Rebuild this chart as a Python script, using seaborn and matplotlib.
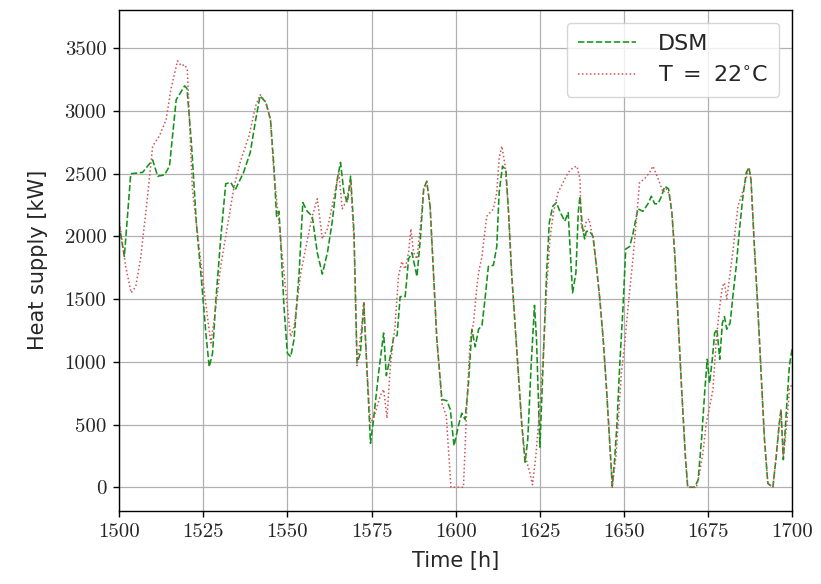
import matplotlib
matplotlib.use("Agg")
import matplotlib.pyplot as plt
import seaborn as sns
import pandas as pd

# DSM series (green dashed): hour, heat supply [kW]
dsm_hours = [1500, 1501.6, 1503.5, 1507, 1510, 1511.5, 1513.5, 1515, 1517, 1519.5, 1520.2, 1521.5, 1523,
             1524.5, 1525.8, 1526.8, 1527.8, 1528.8, 1530.2, 1531.7, 1533.2, 1534.5, 1537, 1539, 1540.6,
             1541.9, 1543.6, 1545, 1546, 1546.8, 1547.5, 1548, 1549, 1550, 1551, 1552, 1553.5, 1554.6,
             1555.9, 1557.4, 1558.9, 1560.4, 1561.9, 1563.3, 1564.8, 1565.8, 1566.8, 1567.8, 1568.8,
             1569.8, 1570.7, 1571.7, 1572.7, 1573.7, 1574.7, 1575.6, 1577.1, 1578.6, 1579.4, 1580.4,
             1581.6, 1582.6, 1583.5, 1585, 1586, 1587, 1588.5, 1589.5, 1590.5, 1591.4, 1592.4, 1593.4,
             1594.4, 1595.9, 1597.4, 1598.4, 1599.5, 1600.8, 1601.8, 1602.8, 1603.8, 1604.8, 1605.8,
             1606.8, 1607.8, 1608.7, 1609.7, 1611.2, 1612.2, 1612.9, 1613.9, 1614.9, 1615.7, 1616.6,
             1617.6, 1618.6, 1619.6, 1620.6, 1621.4, 1622.4, 1623.4, 1624, 1625, 1625.7, 1627, 1627.8,
             1628.8, 1629.9, 1631.1, 1632.4, 1633.4, 1634.1, 1634.7, 1635.7, 1636.4, 1636.9, 1637.6,
             1638.3, 1638.8, 1639.8, 1640.8, 1641.8, 1642.8, 1643.8, 1644.8, 1645.7, 1646.5, 1647.2,
             1647.9, 1648.7, 1649.7, 1650.5, 1651.7, 1652.7, 1654.1, 1655.6, 1657.1, 1658.1, 1659.1,
             1660.1, 1661.1, 1662.1, 1663.2, 1664.2, 1665.1, 1666.1, 1667.1, 1668.2, 1668.9, 1671, 1672,
             1673, 1674, 1674.7, 1675.4, 1676.2, 1676.9, 1677.6, 1678.4, 1679.2, 1679.8, 1680.5, 1681.5,
             1682.3, 1683.3, 1684.3, 1685.3, 1686.3, 1687.1, 1687.7, 1688.7, 1689.7, 1690.7, 1691.7,
             1692.7, 1694.2, 1695.2, 1696.1, 1696.6, 1697.3, 1698.3, 1699.1, 1700]
dsm_values = [2100, 1840, 2500, 2510, 2610, 2480, 2490, 2560, 3090, 3200, 3180, 2750, 2100,
              1650, 1230, 960, 1070, 1500, 1980, 2420, 2430, 2370, 2510, 2670, 2930,
              3120, 3070, 2930, 2560, 2160, 2200, 1980, 1440, 1070, 1040, 1180, 1710, 2270,
              2200, 2160, 1870, 1700, 1870, 2110, 2450, 2590, 2350, 2270, 2480,
              2030, 990, 1070, 1470, 910, 350, 540, 910, 1230, 890, 1020,
              1200, 1210, 1520, 1520, 1820, 1870, 1680, 1980, 2380, 2440, 2240, 1710,
              1180, 700, 690, 620, 330, 490, 590, 540, 830, 1260, 1120,
              1260, 1290, 1500, 1760, 1770, 1920, 2350, 2560, 2530, 2190, 1710,
              1310, 910, 510, 200, 380, 970, 1450, 1180, 320, 800, 1710, 2110,
              2240, 2270, 2190, 2120, 2190, 1840, 1550, 1710, 2190, 2320, 2080,
              1980, 2040, 2040, 2000, 1760, 1500, 1180, 780, 380, 10, 220,
              510, 970, 1440, 1900, 1920, 2030, 2220, 2200, 2260, 2320, 2260,
              2260, 2320, 2400, 2380, 2190, 1840, 1310, 780, 250, 0, 0, 60,
              380, 780, 1020, 830, 1020, 1230, 1260, 1020, 1310, 1360, 1260, 1310,
              1520, 1760, 2060, 2320, 2510, 2550, 2450, 1920, 1440, 910, 380,
              30, 0, 250, 510, 620, 220, 650, 970, 1120]

# Reference series T = 22 °C (red dotted)
ref_hours = [1500, 1502, 1503.6, 1505, 1506.5, 1508.5, 1510, 1512, 1514, 1515.4, 1517.4, 1518.5, 1519.5,
             1520.3, 1521.8, 1523.8, 1525.6, 1527.3, 1528.3, 1530.2, 1532.2, 1534.2, 1536.2, 1538.6,
             1540.6, 1541.9, 1543.6, 1545, 1546, 1548, 1549.5, 1550.5, 1551, 1552, 1554, 1556, 1557.4,
             1558.9, 1560.4, 1561.9, 1563.3, 1565.3, 1566.3, 1567.3, 1568.8, 1569.8, 1570.7, 1572.2,
             1572.7, 1573.7, 1574.7, 1576.1, 1577.6, 1578.6, 1579.6, 1580.6, 1582, 1583, 1584, 1585,
             1586, 1586.7, 1587.5, 1588.5, 1589.5, 1590.5, 1591.4, 1592.4, 1593.4, 1594.4, 1595.9,
             1597.2, 1598, 1598.6, 1602.3, 1603.3, 1604.3, 1605.3, 1606.3, 1606.8, 1607.8, 1609.2,
             1610.2, 1611.2, 1612.2, 1612.9, 1613.7, 1614.7, 1615.7, 1616.6, 1617.6, 1618.6, 1619.6,
             1620.6, 1622.1, 1622.8, 1623.8, 1625, 1626, 1627, 1628, 1629, 1630.4, 1631.9, 1633.4,
             1634.9, 1636, 1636.9, 1637.3, 1638, 1638.8, 1639.6, 1640.8, 1641.8, 1642.8, 1643.8,
             1644.8, 1645.7, 1646.5, 1647.6, 1649.2, 1650.2, 1651.2, 1652.7, 1653.7, 1654.6, 1656.1,
             1657.6, 1658.6, 1660.1, 1661.6, 1662.5, 1663.5, 1664.2, 1665.1, 1666.1, 1667.1, 1668.2,
             1668.9, 1671.5, 1672.4, 1673.4, 1674.4, 1675.4, 1676.4, 1677.4, 1678.4, 1679.2, 1679.8,
             1680.5, 1681.5, 1682.5, 1683.8, 1684.8, 1685.7, 1687.1, 1687.7, 1688.7, 1689.7, 1690.7,
             1691.7, 1692.7, 1694.2, 1695.2, 1696.1, 1696.6, 1697.3, 1698.3, 1699.1, 1700]
ref_values = [2140, 1760, 1550, 1600, 1840, 2320, 2720, 2800, 2930, 3170, 3400, 3360, 3370,
              3330, 2380, 1920, 1500, 1150, 1340, 1760, 2080, 2400, 2610, 2800,
              3040, 3130, 3070, 2930, 2510, 1980, 1580, 1310, 1200, 1280, 1710, 1980, 2160,
              2300, 1980, 2060, 2240, 2510, 2220, 2270, 2430, 1980, 970, 1310,
              1470, 910, 510, 590, 730, 780, 550, 970, 1290, 1680, 1800, 1740,
              1870, 2060, 1870, 1820, 2080, 2380, 2430, 2240, 1710, 1180, 670,
              570, 250, 0, 0, 650, 1180, 1310, 1600, 1710, 1840, 2160,
              2190, 2220, 2350, 2620, 2720, 2560, 2190, 1710, 1310, 910, 510,
              250, 110, 20, 250, 650, 1050, 1580, 1980, 2190, 2350, 2430, 2510,
              2550, 2560, 2460, 2080, 2030, 2120, 2140, 1980, 1760, 1500, 1180,
              780, 380, 0, 250, 910, 1150, 1440, 1840, 2140, 2430, 2460,
              2510, 2560, 2460, 2350, 2380, 2330, 2190, 1840, 1310, 780, 250,
              0, 0, 110, 270, 510, 640, 780, 1180, 1440, 1600, 1630,
              1500, 1710, 1920, 2240, 2320, 2400, 2550, 2450, 1920, 1440, 910,
              380, 30, 0, 250, 510, 620, 250, 500, 780, 830]

series_labels = ["DSM", r"T $=$ 22$^{\circ}$C"]
x_ticks = [1500, 1525, 1550, 1575, 1600, 1625, 1650, 1675, 1700]
y_ticks = [0, 500, 1000, 1500, 2000, 2500, 3000, 3500]

sns.set_style("white")
plt.rcParams["font.family"] = ["DejaVu Sans"]
plt.rcParams["mathtext.fontset"] = "dejavusans"

fig = plt.figure(figsize=(8.21, 5.84), dpi=100)
ax = fig.add_axes([0.1449, 0.1255, 0.8203, 0.8582])

df_dsm = pd.DataFrame({"h": dsm_hours, "v": dsm_values})
df_ref = pd.DataFrame({"h": ref_hours, "v": ref_values})

sns.lineplot(data=df_dsm, x="h", y="v", ax=ax, color="#14911a", linestyle=(0, (4, 1.6)),
             linewidth=1.15, label=series_labels[0])
sns.lineplot(data=df_ref, x="h", y="v", ax=ax, color="#cc5555", linestyle=(0, (1, 1.6)),
             linewidth=1.1, label=series_labels[1])

ax.set_xlim(1500, 1700)
ax.set_ylim(-187, 3809)
ax.set_xticks(x_ticks)
ax.set_yticks(y_ticks)
ax.grid(True, color="#b0b0b0", linewidth=0.9)
ax.set_axisbelow(True)
for s in ax.spines.values():
    s.set_color("black")
    s.set_linewidth(1.0)
ax.tick_params(axis="both", direction="out", length=4, width=1, color="black",
               labelsize=14, bottom=True, left=True, pad=5)
for lab in ax.get_xticklabels() + ax.get_yticklabels():
    lab.set_fontfamily("cmr10")
    lab.set_fontsize(15)

ax.set_xlabel("Time [h]", fontsize=15, labelpad=7)
ax.set_ylabel("Heat supply [kW]", fontsize=15, labelpad=12)

leg = ax.legend(loc="upper right", fontsize=16, handlelength=2.6, handletextpad=1.0,
                frameon=True, fancybox=True, framealpha=0.8, edgecolor="#cccccc",
                borderpad=0.5, labelspacing=0.5, borderaxespad=0.6)

fig.savefig("out.png", dpi=100)
